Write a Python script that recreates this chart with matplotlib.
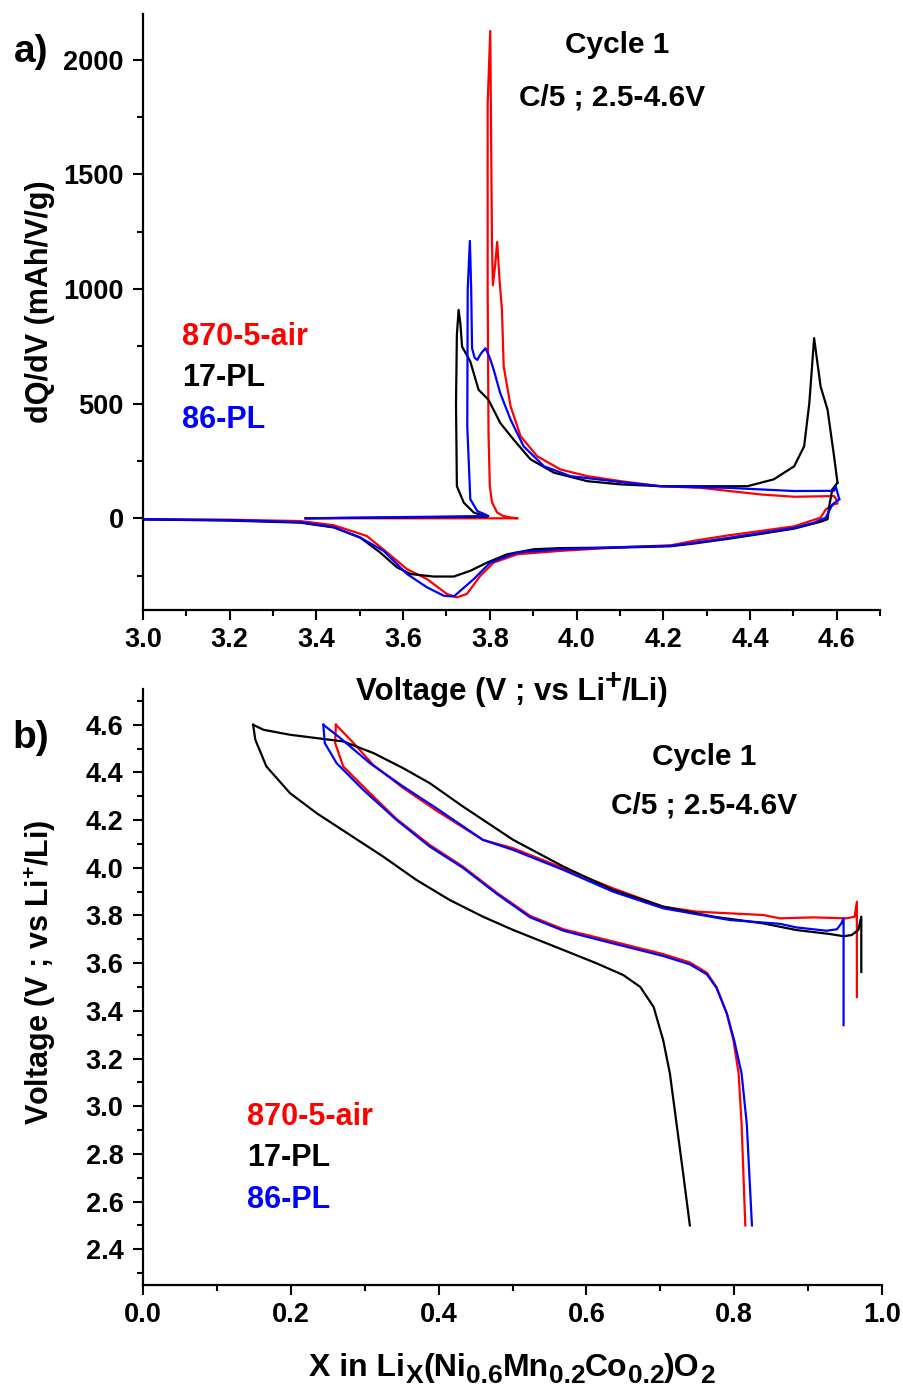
import matplotlib
matplotlib.use("Agg")
import matplotlib.pyplot as plt
from matplotlib.ticker import MultipleLocator

plt.rcParams['font.family'] = ['Liberation Sans', 'DejaVu Sans']
plt.rcParams['font.weight'] = 'bold'
plt.rcParams['mathtext.fontset'] = 'custom'
plt.rcParams['mathtext.rm'] = 'Liberation Sans:bold'
plt.rcParams['mathtext.it'] = 'Liberation Sans:bold'
plt.rcParams['mathtext.bf'] = 'Liberation Sans:bold'
plt.rcParams['mathtext.sf'] = 'Liberation Sans:bold'
plt.rcParams['mathtext.default'] = 'rm'

# ---------------- data: panel a (dQ/dV vs V) ----------------
red_chg_v = [3.375, 3.864, 3.850, 3.831, 3.817, 3.805, 3.800, 3.797, 3.795, 3.795, 3.801, 3.803,
             3.805, 3.807, 3.812, 3.817, 3.822, 3.828, 3.832, 3.848, 3.871, 3.909, 3.963, 4.025,
             4.102, 4.194, 4.286, 4.425, 4.502, 4.594, 4.602]
red_chg_q = [0, 0, 3, 10, 25, 70, 140, 370, 1000, 1808, 2126, 1648,
             1200, 1017, 1100, 1206, 1050, 909, 662, 488, 358, 271, 213, 184,
             162, 140, 133, 104, 94, 97, 75]
red_dis_v = [4.602, 4.594, 4.575, 4.563, 4.502, 4.425, 4.348, 4.271, 4.217, 4.117, 3.963, 3.863,
             3.809, 3.778, 3.747, 3.724, 3.701, 3.655, 3.609, 3.563, 3.516, 3.440, 3.363, 3.2, 3.0]
red_dis_q = [65, 61, 39, 3, -35, -55, -75, -98, -118, -125, -142, -157,
             -193, -251, -330, -345, -330, -265, -222, -149, -77, -30, -12, -6, -4]

blk_chg_v = [3.375, 3.794, 3.763, 3.740, 3.724, 3.722, 3.724, 3.728, 3.732, 3.736, 3.755, 3.774,
             3.797, 3.824, 3.855, 3.894, 3.948, 4.025, 4.102, 4.194, 4.286, 4.394, 4.455, 4.502,
             4.525, 4.537, 4.548, 4.563, 4.579, 4.594, 4.602]
blk_chg_q = [0, 7, 25, 68, 140, 500, 800, 909, 850, 749, 684, 561,
             517, 416, 343, 257, 199, 162, 148, 140, 140, 140, 170, 227,
             314, 503, 786, 575, 474, 271, 155]
blk_dis_v = [4.602, 4.590, 4.583, 4.579, 4.563, 4.502, 4.425, 4.348, 4.271, 4.217, 4.117, 3.963,
             3.901, 3.840, 3.794, 3.755, 3.717, 3.670, 3.617, 3.586, 3.547, 3.501, 3.440, 3.363, 3.2, 3.0]
blk_dis_q = [155, 126, 54, -4, -15, -45, -68, -90, -110, -122, -127, -130,
             -135, -157, -193, -229, -254, -254, -243, -214, -149, -84, -40, -19, -10, -5]

blu_chg_v = [3.375, 3.797, 3.771, 3.755, 3.748, 3.749, 3.754, 3.757, 3.759, 3.765, 3.771, 3.780,
             3.790, 3.800, 3.809, 3.824, 3.848, 3.878, 3.925, 3.986, 4.102, 4.194, 4.348, 4.502,
             4.594, 4.598, 4.606]
blu_chg_q = [0, 10, 32, 83, 400, 1000, 1210, 1000, 742, 700, 691, 720,
             742, 700, 648, 546, 430, 314, 227, 184, 158, 140, 133, 119,
             120, 140, 83]
blu_dis_v = [4.606, 4.590, 4.575, 4.548, 4.502, 4.425, 4.348, 4.271, 4.217, 4.117, 3.963, 3.863,
             3.801, 3.763, 3.732, 3.717, 3.694, 3.655, 3.609, 3.555, 3.501, 3.440, 3.363, 3.2, 3.0]
blu_dis_q = [83, 60, 3, -19, -42, -64, -86, -107, -120, -125, -135, -149,
             -193, -265, -316, -341, -338, -301, -243, -142, -84, -38, -17, -8, -4]

# ---------------- data: panel b (V vs x) ----------------
blk_chg_x = [0.972, 0.972, 0.968, 0.959, 0.948, 0.930, 0.884, 0.839, 0.772, 0.704, 0.636, 0.569,
             0.501, 0.433, 0.388, 0.352, 0.312, 0.271, 0.235, 0.199, 0.163, 0.149]
blk_chg_e = [3.563, 3.795, 3.739, 3.718, 3.713, 3.722, 3.739, 3.767, 3.795, 3.837, 3.907, 4.005,
             4.117, 4.257, 4.355, 4.418, 4.481, 4.530, 4.544, 4.558, 4.579, 4.600]
blk_dis_x = [0.149, 0.152, 0.167, 0.199, 0.235, 0.280, 0.325, 0.370, 0.415, 0.460, 0.501, 0.569,
             0.614, 0.650, 0.673, 0.691, 0.704, 0.713, 0.722, 0.731, 0.740]
blk_dis_e = [4.600, 4.537, 4.425, 4.313, 4.229, 4.138, 4.047, 3.949, 3.865, 3.795, 3.739, 3.655,
             3.599, 3.550, 3.500, 3.416, 3.276, 3.137, 2.926, 2.716, 2.500]

red_chg_x = [0.966, 0.966, 0.963, 0.952, 0.907, 0.862, 0.839, 0.749, 0.704, 0.636, 0.569, 0.501,
             0.460, 0.397, 0.352, 0.312, 0.285, 0.261]
red_chg_e = [3.458, 3.858, 3.795, 3.788, 3.792, 3.788, 3.802, 3.816, 3.837, 3.914, 3.998, 4.082,
             4.117, 4.240, 4.335, 4.430, 4.523, 4.600]
red_dis_x = [0.261, 0.260, 0.271, 0.298, 0.343, 0.388, 0.433, 0.479, 0.524, 0.569, 0.614, 0.659,
             0.704, 0.740, 0.763, 0.776, 0.790, 0.799, 0.806, 0.810, 0.815]
red_dis_e = [4.600, 4.523, 4.425, 4.341, 4.205, 4.096, 4.005, 3.895, 3.798, 3.742, 3.708, 3.673,
             3.638, 3.603, 3.560, 3.500, 3.389, 3.276, 3.137, 2.926, 2.500]

blu_chg_x = [0.948, 0.948, 0.945, 0.939, 0.925, 0.884, 0.862, 0.794, 0.704, 0.636, 0.569, 0.501,
             0.460, 0.397, 0.352, 0.307, 0.267, 0.244]
blu_chg_e = [3.340, 3.788, 3.767, 3.742, 3.736, 3.750, 3.765, 3.781, 3.830, 3.900, 3.991, 4.075,
             4.117, 4.250, 4.341, 4.439, 4.544, 4.600]
blu_dis_x = [0.244, 0.246, 0.262, 0.298, 0.343, 0.388, 0.433, 0.479, 0.524, 0.569, 0.614, 0.659,
             0.704, 0.740, 0.763, 0.776, 0.790, 0.800, 0.810, 0.817, 0.824]
blu_dis_e = [4.600, 4.523, 4.439, 4.327, 4.201, 4.089, 4.000, 3.890, 3.792, 3.736, 3.700, 3.665,
             3.630, 3.595, 3.553, 3.497, 3.389, 3.276, 3.137, 2.926, 2.500]

labels = ['870-5-air', '17-PL', '86-PL']
colors = ['#ff0000', '#000000', '#0000ff']

W, H = 904, 1389
fig = plt.figure(figsize=(W / 100, H / 100), dpi=100)


def px_axes(l, t, r, b):
    return fig.add_axes([l / W, 1 - b / H, (r - l) / W, (b - t) / H])


def ftext(x, y, s, **kw):
    return fig.text(x / W, 1 - y / H, s, **kw)


def compose(xc, yb, pieces, color='black'):
    """Lay out text pieces (string, fontsize, raise_px) side by side on one baseline."""
    r = fig.canvas.get_renderer()
    items = []
    for s, size, dy in pieces:
        t = fig.text(0, 0, s, fontsize=size, fontweight='bold', ha='left', va='baseline', color=color)
        w = t.get_window_extent(r).width
        items.append((t, dy, w))
    total = sum(w for _, _, w in items)
    x = xc - total / 2
    for t, dy, w in items:
        t.set_position((x / W, 1 - (yb - dy) / H))
        x += w


def style(ax):
    for s in ['top', 'right']:
        ax.spines[s].set_visible(False)
    for s in ['left', 'bottom']:
        ax.spines[s].set_linewidth(1.6)
    ax.tick_params(which='major', direction='out', length=7.5, width=1.5, labelsize=19.5, pad=6.5)
    ax.tick_params(which='minor', direction='out', length=4.5, width=1.5)
    ax.tick_params(axis='x', which='major', pad=5)
    for lab in ax.get_xticklabels() + ax.get_yticklabels():
        lab.set_fontweight('bold')


LW = 1.6
# ---------- panel a ----------
ax1 = px_axes(143, 14, 880, 610)
ax1.plot(red_chg_v, red_chg_q, color=colors[0], lw=LW)
ax1.plot(red_dis_v, red_dis_q, color=colors[0], lw=LW)
ax1.plot(blk_chg_v, blk_chg_q, color=colors[1], lw=LW)
ax1.plot(blk_dis_v, blk_dis_q, color=colors[1], lw=LW)
ax1.plot(blu_chg_v, blu_chg_q, color=colors[2], lw=LW)
ax1.plot(blu_dis_v, blu_dis_q, color=colors[2], lw=LW)
ax1.set_xlim(3.0, 4.7)
ax1.set_ylim(-400, 2200)
ax1.set_xticks([3.0, 3.2, 3.4, 3.6, 3.8, 4.0, 4.2, 4.4, 4.6])
ax1.set_xticklabels(['3.0', '3.2', '3.4', '3.6', '3.8', '4.0', '4.2', '4.4', '4.6'])
ax1.xaxis.set_minor_locator(MultipleLocator(0.1))
ax1.set_yticks([0, 500, 1000, 1500, 2000])
ax1.yaxis.set_minor_locator(MultipleLocator(250))
style(ax1)

# ---------- panel b ----------
ax2 = px_axes(143, 689, 882, 1285)
ax2.plot(red_chg_x, red_chg_e, color=colors[0], lw=LW)
ax2.plot(red_dis_x, red_dis_e, color=colors[0], lw=LW)
ax2.plot(blk_chg_x, blk_chg_e, color=colors[1], lw=LW)
ax2.plot(blk_dis_x, blk_dis_e, color=colors[1], lw=LW)
ax2.plot(blu_chg_x, blu_chg_e, color=colors[2], lw=LW)
ax2.plot(blu_dis_x, blu_dis_e, color=colors[2], lw=LW)
ax2.set_xlim(0.0, 1.0)
ax2.set_ylim(2.25, 4.75)
ax2.set_xticks([0.0, 0.2, 0.4, 0.6, 0.8, 1.0])
ax2.set_xticklabels(['0.0', '0.2', '0.4', '0.6', '0.8', '1.0'])
ax2.xaxis.set_minor_locator(MultipleLocator(0.1))
ax2.set_yticks([2.4, 2.6, 2.8, 3.0, 3.2, 3.4, 3.6, 3.8, 4.0, 4.2, 4.4, 4.6])
ax2.set_yticklabels(['2.4', '2.6', '2.8', '3.0', '3.2', '3.4', '3.6', '3.8', '4.0', '4.2', '4.4', '4.6'])
ax2.yaxis.set_minor_locator(MultipleLocator(0.1))
style(ax2)

# ---------- texts ----------
ftext(31, 52, 'a)', fontsize=28, fontweight='bold', ha='center', va='center')
ftext(31, 738, 'b)', fontsize=28, fontweight='bold', ha='center', va='center')
ftext(617, 45, 'Cycle 1', fontsize=21.5, fontweight='bold', ha='center', va='center')
ftext(612, 97, 'C/5 ; 2.5-4.6V', fontsize=21.5, fontweight='bold', ha='center', va='center')
ftext(704, 757, 'Cycle 1', fontsize=21.5, fontweight='bold', ha='center', va='center')
ftext(704, 806, 'C/5 ; 2.5-4.6V', fontsize=21.5, fontweight='bold', ha='center', va='center')
for i, (lab, c) in enumerate(zip(labels, colors)):
    ftext(182, 337 + 41.5 * i, lab, fontsize=22, fontweight='bold', color=c, ha='left', va='center')
    ftext(247, 1117 + 41.5 * i, lab, fontsize=22, fontweight='bold', color=c, ha='left', va='center')

ftext(40, 302, 'dQ/dV (mAh/V/g)', fontsize=22, fontweight='bold', rotation=90, ha='center', va='center')
ftext(40, 972, r'Voltage (V ; vs Li$^{+}$/Li)', fontsize=22, fontweight='bold', rotation=90,
      ha='center', va='center')
compose(512, 700, [('Voltage (V ; vs Li', 22.5, 0), ('+', 21, 11), ('/Li)', 22.5, 0)])
compose(512, 1376, [('X in Li', 23, 0), ('X', 19, -7), ('(Ni', 23, 0), ('0.6', 19, -7),
                    ('Mn', 23, 0), ('0.2', 19, -7), ('Co', 23, 0), ('0.2', 19, -7),
                    (')O', 23, 0), ('2', 19, -7)])

fig.savefig('out.png', dpi=100)
